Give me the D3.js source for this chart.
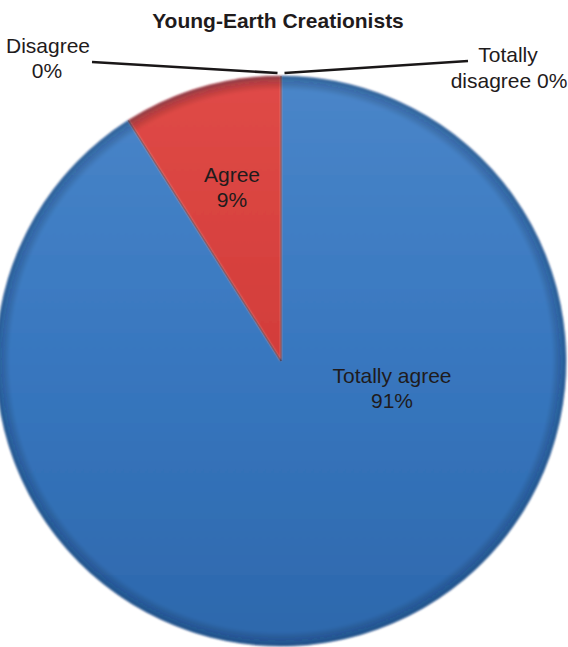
<!DOCTYPE html>
<html><head><meta charset="utf-8">
<script src="https://cdn.jsdelivr.net/npm/d3@7"></script>
<style>body{margin:0;background:#fff}text{font-family:"Liberation Sans",Arial,sans-serif}</style>
</head><body>
<svg id="c" width="568" height="647"></svg>
<script>
const title = "Young-Earth Creationists";
const categories = ["Totally agree", "Agree", "Disagree", "Totally disagree"];
const values = [91, 9, 0, 0];
const colors = ["#3b78c0", "#d94341", "#8fb04a", "#7d5fa0"];

const svg = d3.select("#c");
const cx = 281, cy = 361, R = 285;

const defs = svg.append("defs");
const lg = defs.append("linearGradient").attr("id","gBlue").attr("x1",0).attr("y1",0).attr("x2",0).attr("y2",1);
lg.append("stop").attr("offset","0%").attr("stop-color","#4a86c9");
lg.append("stop").attr("offset","50%").attr("stop-color","#3877bf");
lg.append("stop").attr("offset","100%").attr("stop-color","#2d68ac");
const lr = defs.append("linearGradient").attr("id","gRed").attr("x1",0).attr("y1",0).attr("x2",0).attr("y2",1);
lr.append("stop").attr("offset","0%").attr("stop-color","#e04a47");
lr.append("stop").attr("offset","100%").attr("stop-color","#d23d3a");
const rg = defs.append("radialGradient").attr("id","gEdge").attr("cx",0.5).attr("cy",0.5).attr("r",0.5);
rg.append("stop").attr("offset","95%").attr("stop-color","#000").attr("stop-opacity",0);
rg.append("stop").attr("offset","99%").attr("stop-color","#0a2040").attr("stop-opacity",0.25);
rg.append("stop").attr("offset","100%").attr("stop-color","#0a2040").attr("stop-opacity",0.45);
const blur = defs.append("filter").attr("id","soft").attr("x","-5%").attr("y","-5%").attr("width","110%").attr("height","110%");
blur.append("feGaussianBlur").attr("stdDeviation",0.8);

const data = categories.map((c,i)=>({cat:c, val:values[i], color:colors[i]}));
const pie = d3.pie().value(d=>d.val).sort(null);
const arcs = pie(data);
const arc = d3.arc().innerRadius(0).outerRadius(R);
const fills = ["url(#gBlue)","url(#gRed)","none","none"];

const g = svg.append("g").attr("transform",`translate(${cx},${cy})`);
g.selectAll("path.slice").data(arcs.filter(a=>a.data.val>0)).join("path")
  .attr("class","slice")
  .attr("d",arc)
  .attr("fill",d=>fills[d.index])
  .attr("filter","url(#soft)");
g.append("circle").attr("r",R).attr("fill","url(#gEdge)").attr("filter","url(#soft)");
g.selectAll("path.sep").data(arcs.filter(a=>a.data.val>0)).join("path")
  .attr("class","sep")
  .attr("d",d=>{const a=d.startAngle; return `M0,0L${R*Math.sin(a)},${-R*Math.cos(a)}`;})
  .attr("stroke","rgba(60,20,20,0.35)").attr("stroke-width",1.5).attr("fill","none");

const insideOffsets = [[111, 22], [-49, -179]];
arcs.filter(a=>a.data.val>0).forEach((a)=>{
  const [x,y] = insideOffsets[a.index];
  const t = g.append("text").attr("text-anchor","middle").attr("font-size",21).attr("fill","#1f1b1c");
  t.append("tspan").attr("x",x).attr("y",y).text(a.data.cat);
  t.append("tspan").attr("x",x).attr("y",y+25).text(a.data.val+"%");
});

const zero = arcs.filter(a=>a.data.val===0);
const leaderEnds = [[-189, -299], [187, -300]];
zero.forEach((a,i)=>{
  const s = i===0 ? -1 : 1;
  const px = s*3.5, py = -R-3;
  const [ex, ey] = leaderEnds[i];
  g.append("line").attr("x1",px).attr("y1",py).attr("x2",ex).attr("y2",ey)
    .attr("stroke","#1a1718").attr("stroke-width",2.6);
  const t = g.append("text").attr("font-size",21).attr("fill","#1f1b1c").attr("text-anchor","middle");
  if(s<0){
    t.append("tspan").attr("x",-233).attr("y",-308).text(a.data.cat);
    t.append("tspan").attr("x",-234).attr("y",-283).text(a.data.val+"%");
  } else {
    const words = a.data.cat.split(" ");
    t.append("tspan").attr("x",227).attr("y",-299).text(words[0]);
    t.append("tspan").attr("x",228).attr("y",-273).text(words[1]+" "+a.data.val+"%");
  }
});

svg.append("text").attr("x",278).attr("y",28).attr("text-anchor","middle")
  .attr("font-size",21).attr("font-weight","bold").attr("fill","#1f1b1c").text(title);
</script>
</body></html>
